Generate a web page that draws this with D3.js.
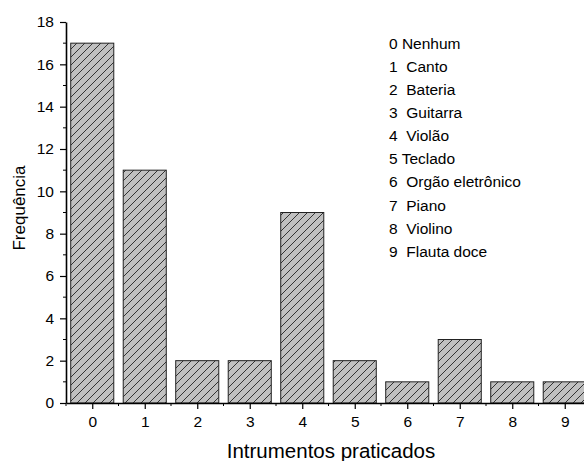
<!DOCTYPE html>
<html>
<head>
<meta charset="utf-8">
<script src="https://cdn.jsdelivr.net/npm/d3@7"></script>
<style>
	body { margin: 0; background: #fff; }
	svg { display: block; font-family: "Liberation Sans", Arial, sans-serif; }
</style>
</head>
<body>
<div id="chart"></div>
<script>
const categories = [0, 1, 2, 3, 4, 5, 6, 7, 8, 9];
const frequencies = [17, 11, 2, 2, 9, 2, 1, 3, 1, 1];
const legendLabels = [
	"0 Nenhum", "1  Canto", "2  Bateria", "3  Guitarra", "4  Violão",
	"5 Teclado", "6  Orgão eletrônico", "7  Piano", "8  Violino", "9  Flauta doce"
];
const yTicks = [0, 2, 4, 6, 8, 10, 12, 14, 16, 18];

const width = 584, height = 461;
const margin = { top: 22, left: 66, bottom: 58 };

const svg = d3.select("#chart").append("svg")
	.attr("width", width)
	.attr("height", height);

// hatch pattern for the bars
const pattern = svg.append("defs").append("pattern")
	.attr("id", "hatch")
	.attr("patternUnits", "userSpaceOnUse")
	.attr("width", 8)
	.attr("height", 8);
pattern.append("rect").attr("width", 8).attr("height", 8).attr("fill", "#c0c0c0");
pattern.append("path")
	.attr("d", "M-2,2 L2,-2 M0,8 L8,0 M6,10 L10,6")
	.attr("stroke", "#222")
	.attr("stroke-width", 0.9);

const xScale = d3.scaleLinear()
	.domain([-0.5, 9.5])
	.range([margin.left, margin.left + 525]);

const yScale = d3.scaleLinear()
	.domain([0, 18])
	.range([height - margin.bottom, margin.top]);

const barWidth = (xScale(1) - xScale(0)) * 0.82;

svg.selectAll("rect.bar")
	.data(categories)
	.join("rect")
	.attr("class", "bar")
	.attr("x", d => xScale(d) - barWidth / 2)
	.attr("y", (d, i) => yScale(frequencies[i]))
	.attr("width", barWidth)
	.attr("height", (d, i) => yScale(0) - yScale(frequencies[i]))
	.attr("fill", "url(#hatch)")
	.attr("stroke", "#222")
	.attr("stroke-width", 1);

// Adding the x Axis
const xAxis = svg.append("g")
	.attr("transform", `translate(0,${yScale(0)})`)
	.call(d3.axisBottom(xScale).tickValues(categories).tickSize(6).tickSizeOuter(0).tickPadding(7));
xAxis.selectAll("line.minor")
	.data(d3.range(-0.5, 10, 1))
	.join("line")
	.attr("class", "minor")
	.attr("x1", d => xScale(d)).attr("x2", d => xScale(d))
	.attr("y1", 0).attr("y2", 3)
	.attr("stroke", "#000");

// Adding the y Axis
const yAxis = svg.append("g")
	.attr("transform", `translate(${margin.left},0)`)
	.call(d3.axisLeft(yScale).tickValues(yTicks).tickSize(6).tickSizeOuter(0).tickPadding(6));
yAxis.selectAll("line.minor")
	.data(d3.range(1, 18, 2))
	.join("line")
	.attr("class", "minor")
	.attr("y1", d => yScale(d)).attr("y2", d => yScale(d))
	.attr("x1", 0).attr("x2", -3)
	.attr("stroke", "#000");

[xAxis, yAxis].forEach(g => {
	g.attr("font-size", null).attr("font-family", null);
	g.select(".domain").attr("stroke", "#000").attr("stroke-width", 1.6);
	g.selectAll(".tick line").attr("stroke", "#000").attr("stroke-width", 1.2);
	g.selectAll("text")
		.style("font-size", "15.5px")
		.attr("fill", "#000");
});

// axis titles
svg.append("text")
	.attr("x", 331)
	.attr("y", 458)
	.attr("text-anchor", "middle")
	.style("font-size", "20.5px")
	.text("Intrumentos praticados");

svg.append("text")
	.attr("transform", "translate(25,208) rotate(-90)")
	.attr("text-anchor", "middle")
	.style("font-size", "17px")
	.text("Frequência");

// legend text
svg.append("g")
	.selectAll("text")
	.data(legendLabels)
	.join("text")
	.attr("x", 389)
	.attr("y", (d, i) => 48.5 + i * 23.15)
	.style("font-size", "15.5px")
	.style("white-space", "pre")
	.text(d => d);
</script>
</body>
</html>
